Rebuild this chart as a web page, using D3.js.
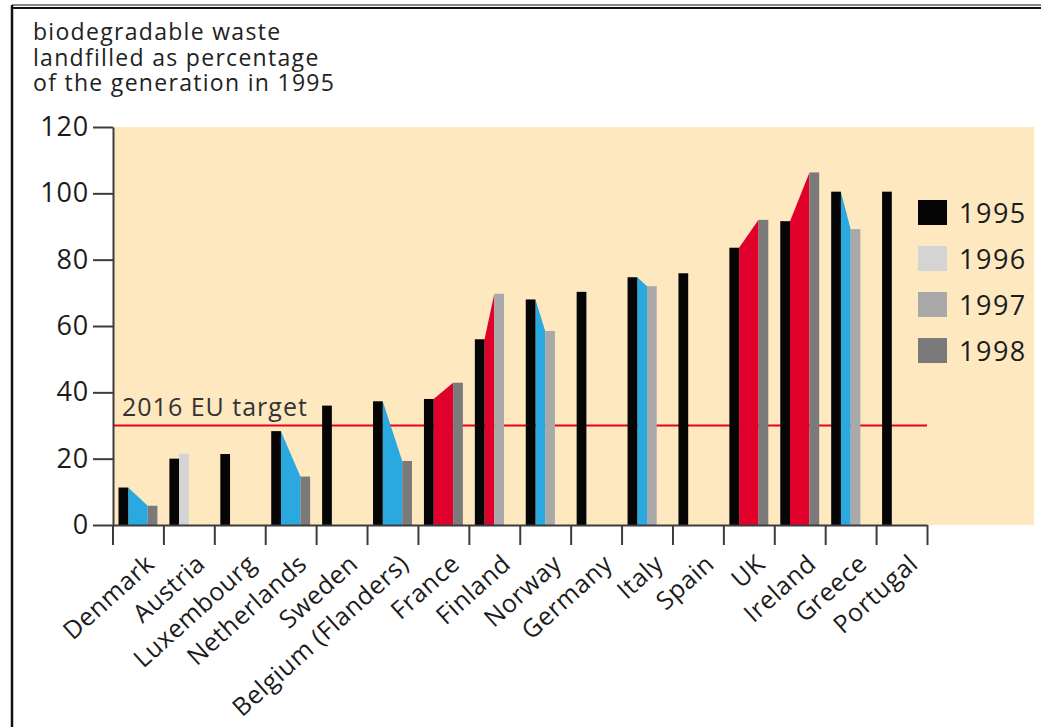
<!DOCTYPE html>
<html>
<head>
<meta charset="utf-8">
<script src="https://cdn.jsdelivr.net/npm/d3@7"></script>
<style>
  body { margin: 0; background: #fff; }
  svg { display: block; font-family: "Open Sans", Lato, sans-serif; }
</style>
</head>
<body>
<svg id="chart" width="1041" height="727"></svg>
<script>
var countries = ["Denmark", "Austria", "Luxembourg", "Netherlands", "Sweden", "Belgium (Flanders)",
    "France", "Finland", "Norway", "Germany", "Italy", "Spain", "UK", "Ireland", "Greece", "Portugal"];
var years = ["1995", "1996", "1997", "1998"];

var v1995 = [11.3, 20, 21.4, 28.3, 36, 37.3, 38, 56, 68, 70.3, 74.7, 75.9, 83.6, 91.6, 100.5, 100.5];
var v1996 = [null, 21.5, null, null, null, null, null, null, null, null, null, null, null, null, null, null];
var v1997 = [null, null, null, null, null, null, null, 69.7, 58.5, null, 72, null, null, null, 89.2, null];
var v1998 = [5.8, null, null, 14.6, null, 19.3, 42.9, null, null, null, null, null, 92, 106.3, null, null];

var yTicks = [0, 20, 40, 60, 80, 100, 120];
var titleLines = ["biodegradable waste", "landfilled as percentage", "of the generation in 1995"];
var targetValue = 30;
var targetLabel = "2016 EU target";

var colors = { "1995": "#050505", "1996": "#d4d4d4", "1997": "#a9a9a9", "1998": "#7a7a7a" };
var upColor = "#e0002b", downColor = "#2aa8e0";

var svg = d3.select("#chart");

// frame of the document box
svg.append("line").attr("x1", 12).attr("x2", 1041).attr("y1", 5).attr("y2", 5)
    .attr("stroke", "#111").attr("stroke-width", 1);
svg.append("line").attr("x1", 12).attr("x2", 1041).attr("y1", 8).attr("y2", 8)
    .attr("stroke", "#111").attr("stroke-width", 2);
svg.append("line").attr("x1", 12).attr("x2", 12).attr("y1", 5).attr("y2", 727)
    .attr("stroke", "#111").attr("stroke-width", 2.5);

var x = d3.scaleBand().domain(countries).range([112.5, 927]).padding(0);
var slot = d3.scaleBand().domain(years).range([6, x.bandwidth() - 6]).padding(0);
var y = d3.scaleLinear().domain([0, 120]).range([525, 127]);
var idx = d3.scaleLinear().domain([0, countries.length]).range(x.range());

// plot background
svg.append("rect")
    .attr("x", 113).attr("y", y(120))
    .attr("width", 1034 - 113).attr("height", y(0) - y(120))
    .attr("fill", "#fde8c0");

// title, one text per line
svg.append("g").selectAll("text")
    .data(titleLines).enter()
    .append("text")
    .attr("x", 33)
    .attr("y", function (d, i) { return 40 + i * 25.5; })
    .attr("font-size", 23)
    .attr("letter-spacing", 1.3)
    .attr("fill", "#222")
    .text(function (d) { return d; });

// target line
svg.append("line")
    .attr("x1", 113).attr("x2", 927)
    .attr("y1", y(targetValue)).attr("y2", y(targetValue))
    .attr("stroke", "#e8001c").attr("stroke-width", 2);
svg.append("text")
    .attr("x", 122).attr("y", y(targetValue) - 10)
    .attr("font-size", 25)
    .attr("letter-spacing", 1)
    .attr("fill", "#333")
    .text(targetLabel);

// rows per country
var rows = countries.map(function (c, i) {
    return { country: c, vals: { "1995": v1995[i], "1996": v1996[i], "1997": v1997[i], "1998": v1998[i] } };
});

// colored change areas between first and later bar
rows.forEach(function (r) {
    var later = null;
    years.slice(1).forEach(function (yr) { if (r.vals[yr] != null) later = yr; });
    if (!later) return;
    var x0 = x(r.country) + slot("1995") + slot.bandwidth();
    var x1 = x(r.country) + slot(later);
    if (x1 - x0 < 1) return;
    var pts = [[x0, y(r.vals["1995"])], [x1, y(r.vals[later])], [x1, y(0)], [x0, y(0)]];
    svg.append("path")
        .attr("d", d3.line()(pts) + "Z")
        .attr("fill", r.vals[later] > r.vals["1995"] ? upColor : downColor);
});

// bars
var bars = [];
rows.forEach(function (r) {
    years.forEach(function (yr) {
        if (r.vals[yr] != null) bars.push({ country: r.country, year: yr, value: r.vals[yr] });
    });
});

svg.append("g").selectAll("rect")
    .data(bars).enter()
    .append("rect")
    .attr("x", function (d) { return x(d.country) + slot(d.year); })
    .attr("y", function (d) { return y(d.value); })
    .attr("width", slot.bandwidth())
    .attr("height", function (d) { return y(0) - y(d.value); })
    .attr("fill", function (d) { return colors[d.year]; });

// y axis
var yAxis = svg.append("g")
    .attr("transform", "translate(113,0)")
    .call(d3.axisLeft(y).tickValues(yTicks).tickSize(20).tickSizeOuter(0).tickPadding(4));
yAxis.selectAll("text").attr("font-size", 27).attr("letter-spacing", 0.8)
    .attr("fill", "#1c1c1c").attr("font-family", "Open Sans");

// x axis (ticks at band edges)
var xAxis = svg.append("g")
    .attr("transform", "translate(0," + y(0) + ")")
    .call(d3.axisBottom(idx).tickValues(d3.range(countries.length + 1)).tickSize(20).tickSizeOuter(0).tickFormat(""));

svg.selectAll(".domain, .tick line").attr("stroke", "#3c3c3c").attr("stroke-width", 2);

// country labels
svg.append("g").selectAll("text")
    .data(countries).enter()
    .append("text")
    .attr("transform", function (d) {
        return "translate(" + (x(d) + x.bandwidth() / 2 + 18) + ",566) rotate(-42)";
    })
    .attr("text-anchor", "end")
    .attr("font-size", 25)
    .attr("letter-spacing", 0.6)
    .attr("fill", "#1c1c1c")
    .text(function (d) { return d; });

// legend
var legend = svg.append("g").selectAll("g")
    .data(years).enter()
    .append("g")
    .attr("transform", function (d, i) { return "translate(918," + (200 + i * 46) + ")"; });
legend.append("rect")
    .attr("width", 29).attr("height", 25)
    .attr("fill", function (d) { return colors[d]; });
legend.append("text")
    .attr("x", 41).attr("y", 23)
    .attr("font-size", 27)
    .attr("letter-spacing", 1.5)
    .attr("fill", "#1c1c1c")
    .text(function (d) { return d; });
</script>
</body>
</html>
